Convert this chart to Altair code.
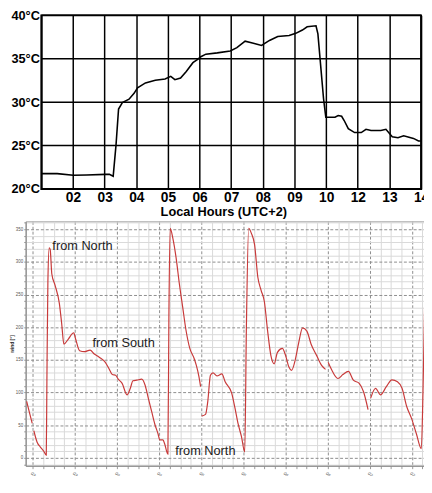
import json
import altair as alt
import pandas as pd

# ---------------- top panel: temperature ----------------
top_hours = [1.00, 1.50, 2.01, 2.43, 3.02, 3.15, 3.27, 3.36, 3.44, 3.56, 3.77, 3.93,
             4.04, 4.29, 4.60, 4.91, 5.09, 5.22, 5.40, 5.58, 5.79, 5.94, 6.04, 6.20,
             6.56, 6.97, 7.18, 7.44, 7.70, 7.96, 8.21, 8.47, 8.83, 9.04, 9.25, 9.40,
             9.68, 9.74, 9.92, 9.99, 10.28, 10.38, 10.49, 10.57, 10.70, 10.90, 11.11,
             11.26, 11.42, 11.73, 11.89, 12.09, 12.27, 12.45, 12.76, 12.92, 13.00]
top_temps = [21.77, 21.77, 21.58, 21.62, 21.69, 21.69, 21.47, 25.08, 29.21, 29.96, 30.34, 31.02,
             31.65, 32.22, 32.52, 32.67, 32.97, 32.59, 32.78, 33.53, 34.55, 34.92, 35.23, 35.53,
             35.68, 35.90, 36.28, 37.03, 36.80, 36.54, 37.11, 37.56, 37.67, 37.93, 38.31, 38.68,
             38.80, 37.86, 30.34, 28.27, 28.27, 28.46, 28.38, 27.89, 26.95, 26.50, 26.50,
             26.88, 26.73, 26.73, 26.88, 26.02, 25.90, 26.13, 25.83, 25.53, 25.53]
top_x_ticks = list(range(1, 14))
top_tick_labels = ["", "", "02", "03", "04", "05", "06", "07", "08", "09", "10", "12", "13", "14"]
top_y_ticks = [20, 25, 30, 35, 40]

# ---------------- bottom panel: wind direction ----------------
wind_hours = [0.28, 1.21, 1.86,
              2.33, 3.26, 4.19, 5.12, 5.87, 6.05, 6.33, 6.70, 6.98, 7.45, 8.38, 9.59, 10.24,
              10.89, 12.10, 13.69, 14.25, 15.36, 16.76, 18.34, 19.55, 20.95, 22.63, 23.74, 24.67,
              25.61, 26.35, 27.47, 28.86, 29.80, 30.54, 31.66, 33.05, 33.99, 34.92, 35.85, 36.78,
              37.71, 38.18, 39.11, 39.57, 40.50, 40.78, 41.15, 41.90, 42.83, 43.76, 44.69, 45.62,
              46.74, 47.95, 48.60, 49.35, 49.81,
              50.09, 51.21, 51.86, 52.61, 53.35, 54.47, 55.87, 56.80, 58.66, 59.59, 60.52, 61.45,
              62.38, 62.85, 63.50, 64.25, 65.18, 66.11, 67.04, 67.97, 68.90, 69.83, 70.76, 71.69,
              73.09, 74.02, 74.95, 75.70, 76.82, 77.75, 78.86, 80.07, 81.28, 82.87, 84.26, 85.38,
              86.13, 87.06, 88.92, 90.32, 91.90, 93.30, 94.97, 96.18, 97.49,
              98.23, 99.63, 101.02, 102.70, 104.28, 105.87, 107.17, 108.47, 109.87, 111.27, 112.66,
              113.13, 113.69]
wind_dir = [86.5, 66.5, 53.0,
            41.5, 24.0, 16.5, 10.5, 4.0, 120.0, 270.0, 321.5, 319.0, 281.5, 264.0, 236.5, 206.5,
            174.0, 181.5, 191.5, 181.5, 164.0, 162.5, 165.0, 159.0, 154.0, 146.5, 136.5, 127.5,
            126.5, 120.5, 114.0, 96.5, 106.5, 118.0, 119.0, 120.5, 111.5, 91.5, 71.5, 51.5,
            36.5, 27.5, 27.5, 21.5, 5.5, 215.0, 351.5, 336.5, 306.5, 266.5, 231.5, 196.5,
            167.5, 152.5, 141.5, 124.0, 109.0,
            64.0, 66.5, 86.5, 126.5, 130.0, 125.5, 128.5, 116.5, 99.0, 76.5, 51.5, 32.5,
            9.0, 200.0, 351.5, 344.0, 326.5, 276.5, 256.5, 239.0, 194.0, 156.5, 144.0, 161.5,
            167.5, 156.5, 139.0, 134.0, 151.5, 176.5, 199.0, 194.0, 174.0, 156.5, 141.5, 135.5,
            146.5, 135.5, 121.5, 127.5, 132.5, 119.0, 114.0, 101.5, 74.0,
            91.5, 106.5, 96.5, 109.0, 119.5, 116.5, 106.5, 79.0, 60.5, 36.5, 14.0,
            100.0, 260.0]
wind_seg = ([0] * 3 + [1] * 54 + [2] * 36 + [3] * 9 + [4] * 13)

date_labels = ["03.12 00:00", "03.12 12:00", "04.12 00:00", "04.12 12:00", "05.12 00:00",
               "05.12 12:00", "06.12 00:00", "06.12 12:00", "07.12 00:00", "07.12 12:00"]

note_text = ["from North", "from South", "from North"]
note_hours = [7.6, 19.0, 42.6]
note_dir = [324, 176, 10]

# ---------------- build tables ----------------
top_df = pd.DataFrame({"hour": top_hours, "temp": top_temps})
ygrid_df = pd.DataFrame({"temp": top_y_ticks})
frame_df = pd.DataFrame({"hour": [top_x_ticks[0]], "hour2": [top_x_ticks[-1]],
                         "temp": [top_y_ticks[0]], "temp2": [top_y_ticks[-1]]})
wind_df = pd.DataFrame({"t": wind_hours, "dir": wind_dir, "seg": wind_seg})
note_df = pd.DataFrame({"t": note_hours, "dir": note_dir, "txt": note_text})

FONT = "Liberation Sans"

# the top plot area is widened 16px to the left (kept blank) so that the two
# panels keep their own left edges while the concat aligns them
xs_top = alt.Scale(domain=[0.504, 13], nice=False, zero=False)
ys_top = alt.Scale(domain=[20, 40], nice=False, zero=False)

top_label_expr = json.dumps(top_tick_labels) + "[datum.value]"
x_axis_top = alt.Axis(values=top_x_ticks, labelExpr=top_label_expr,
                      title="Local Hours (UTC+2)", grid=True,
                      gridColor="black", gridWidth=1.5, gridOpacity=1,
                      ticks=False, domain=False, labelOverlap=False,
                      labelFont=FONT, labelFontWeight="bold", labelFontSize=14,
                      labelColor="black", labelPadding=2, labelFlush=False,
                      titleFont=FONT, titleFontWeight="bold", titleFontSize=13,
                      titleColor="black", titlePadding=1)
y_axis_top = alt.Axis(values=top_y_ticks, labelExpr="datum.value + '°C'",
                      title=None, grid=False, ticks=False, domain=False, offset=-16,
                      labelOverlap=False,
                      labelFont=FONT, labelFontWeight="bold", labelFontSize=13,
                      labelColor="black", labelPadding=2, labelFlush=False)

top_line = alt.Chart(top_df).mark_line(color="black", strokeWidth=1.6).encode(
    x=alt.X("hour:Q", scale=xs_top, axis=x_axis_top),
    y=alt.Y("temp:Q", scale=ys_top, axis=y_axis_top),
)
top_hgrid = alt.Chart(ygrid_df).mark_rule(color="black", strokeWidth=1.5).encode(
    x=alt.XDatum(top_x_ticks[0], scale=xs_top, axis=x_axis_top, type="quantitative"),
    x2=alt.X2Datum(top_x_ticks[-1]),
    y=alt.Y("temp:Q", scale=ys_top, axis=y_axis_top))
top_frame = alt.Chart(frame_df).mark_rect(fillOpacity=0, stroke="black", strokeWidth=2).encode(
    x=alt.X("hour:Q", scale=xs_top, axis=x_axis_top), x2="hour2:Q",
    y=alt.Y("temp:Q", scale=ys_top, axis=y_axis_top), y2="temp2:Q")

top = alt.layer(top_hgrid, top_line, top_frame).properties(
    width=403, height=177,
    view=alt.ViewBackground(stroke="transparent", strokeWidth=0))

x_minor = list(range(2, 114, 3))
y_minor = list(range(-10, 361, 10))
date_expr = ("(datum.value - 2) % 12 == 0 ? " + json.dumps(date_labels) +
             "[(datum.value - 2) / 12] : ''")

grid_dash_x = {"condition": {"test": "(datum.value - 2) % 12 == 0", "value": [3, 2]}, "value": []}
grid_col_x = {"condition": {"test": "(datum.value - 2) % 12 == 0", "value": "#8c8c8c"}, "value": "#d9d9d9"}
grid_dash_y = {"condition": {"test": "datum.value % 50 == 0", "value": [3, 2]}, "value": []}
grid_col_y = {"condition": {"test": "datum.value % 50 == 0", "value": "#8c8c8c"}, "value": "#d9d9d9"}

xs_bot = alt.Scale(domain=[0, 113.7], nice=False, zero=False)
ys_bot = alt.Scale(domain=[-12, 362], nice=False, zero=False)
x_axis_bot = alt.Axis(values=x_minor, labelExpr=date_expr, labelAngle=45,
                      labelFontSize=4.5, labelColor="#555", labelFont=FONT,
                      grid=True, gridDash=grid_dash_x, gridColor=grid_col_x,
                      gridOpacity=1, tickSize=3, tickColor="#999",
                      domainColor="#888", title=None, labelFlush=False,
                      labelOverlap=False)
y_axis_bot = alt.Axis(values=y_minor,
                      labelExpr="datum.value % 50 == 0 && datum.value >= 0 ? datum.label : ''",
                      labelFontSize=4.5, labelColor="#555", labelFont=FONT,
                      grid=True, gridDash=grid_dash_y, gridColor=grid_col_y,
                      gridOpacity=1, tickSize=2, tickColor="#999", domainColor="#888",
                      labelPadding=1,
                      title="wind [°]", titleFontSize=5, titleFont=FONT,
                      titleColor="#333", titlePadding=1, labelOverlap=False,
                      labelFlush=False)

wind_line = alt.Chart(wind_df).mark_line(color="#c83a3a", strokeWidth=1.2,
                                         interpolate="monotone").encode(
    x=alt.X("t:Q", scale=xs_bot, axis=x_axis_bot),
    y=alt.Y("dir:Q", scale=ys_bot, axis=y_axis_bot),
    detail="seg:N", order="t:Q")
notes = alt.Chart(note_df).mark_text(align="left", baseline="middle", font=FONT,
                                     fontSize=13, color="#222").encode(
    x=alt.X("t:Q", scale=xs_bot, axis=x_axis_bot),
    y=alt.Y("dir:Q", scale=ys_bot, axis=y_axis_bot),
    text="txt:N")

bottom = alt.layer(wind_line, notes).properties(
    width=407, height=249,
    view=alt.ViewBackground(stroke="#999", strokeWidth=1))

chart = alt.vconcat(top, bottom, spacing=0).properties(
    padding={"left": 0, "top": -3, "right": -6, "bottom": -20}
)

chart.save("out.html", embed_options={"renderer": "svg", "actions": False})
